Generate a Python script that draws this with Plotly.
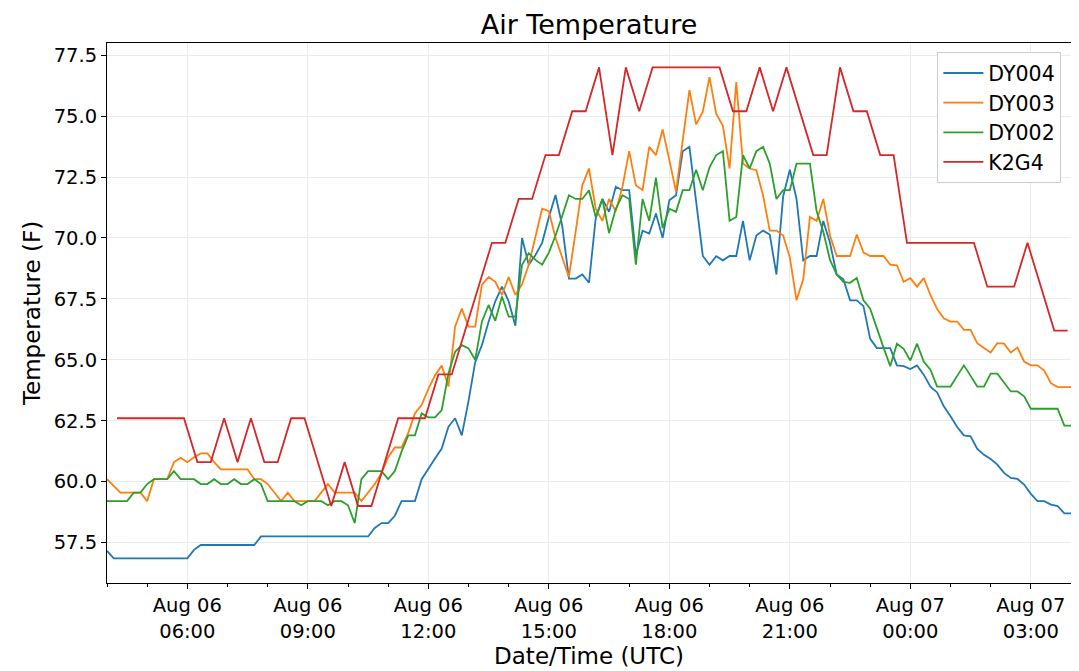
import pandas as pd
import plotly.graph_objects as go

# 10-minute readings, Aug 06 04:00 UTC -> Aug 07 04:00 UTC (one row per hour)
dy004 = [
    57.16, 56.85, 56.85, 56.85, 56.85, 56.85,
    56.85, 56.85, 56.85, 56.85, 56.85, 56.85,
    56.85, 57.2, 57.4, 57.4, 57.4, 57.4,
    57.4, 57.4, 57.4, 57.4, 57.4, 57.75,
    57.75, 57.75, 57.75, 57.75, 57.75, 57.75,
    57.75, 57.75, 57.75, 57.75, 57.75, 57.75,
    57.75, 57.75, 57.75, 57.75, 58.1, 58.3,
    58.3, 58.6, 59.2, 59.2, 59.2, 60.1,
    60.55, 60.95, 61.36, 62.25, 62.6, 61.9,
    63.3, 64.9, 65.6, 66.56, 67.4, 68.0,
    67.4, 66.4, 70.0, 68.9, 69.3, 69.8,
    70.85, 71.76, 70.5, 68.33, 68.33, 68.5,
    68.16, 70.8, 71.6, 71.07, 72.1, 71.96,
    71.96, 69.3, 70.3, 70.18, 71.0, 70.0,
    71.55, 71.75, 73.56, 73.74, 71.5, 69.26,
    68.9, 69.25, 69.08, 69.26, 69.26, 70.7,
    69.08, 70.1, 70.3, 70.14, 68.5, 71.7,
    72.8, 71.6, 69.08, 69.26, 69.26, 70.7,
    69.8, 68.5, 68.3, 67.44, 67.44, 67.2,
    65.86, 65.48, 65.48, 65.48, 64.77, 64.74,
    64.62, 64.77, 64.39, 63.9, 63.66, 63.09,
    62.68, 62.24, 61.9, 61.86, 61.34, 61.1,
    60.93, 60.7, 60.36, 60.15, 60.11, 59.88,
    59.5, 59.2, 59.2, 59.06, 59.0, 58.7,
    58.7,
]

dy003 = [
    60.1, 59.84, 59.55, 59.55, 59.55, 59.55,
    59.2, 60.1, 60.1, 60.1, 60.8, 60.98,
    60.8, 61.0, 61.16, 61.16, 60.8, 60.5,
    60.5, 60.5, 60.5, 60.5, 60.1, 60.1,
    59.9, 59.55, 59.2, 59.55, 59.2, 59.2,
    59.2, 59.2, 59.55, 59.9, 59.55, 59.55,
    59.55, 59.55, 59.2, 59.55, 59.9, 60.35,
    61.0, 61.4, 61.4, 62.0, 62.8, 63.15,
    63.8, 64.37, 64.76, 63.9, 66.36, 67.1,
    66.36, 66.36, 68.07, 68.4, 68.2, 67.66,
    68.4, 67.66, 68.1, 68.9, 70.0, 71.2,
    71.1, 70.0, 69.2, 68.4, 70.25, 72.16,
    72.85, 71.2, 70.7, 71.6, 71.1, 72.1,
    73.56, 72.16, 71.96, 73.74, 73.4, 74.45,
    73.2, 71.9, 74.0, 76.07, 74.66, 75.18,
    76.6, 75.1, 74.6, 72.85, 76.4, 73.05,
    72.85, 72.78, 71.75, 70.3, 70.3, 70.1,
    69.2, 67.44, 68.3, 70.86, 70.7, 71.6,
    70.1, 69.26, 69.26, 69.26, 70.14, 69.4,
    69.26, 69.26, 69.26, 68.9, 68.88, 68.2,
    68.35, 68.0, 68.35, 67.66, 67.08, 66.7,
    66.57, 66.57, 66.23, 66.23, 65.68, 65.48,
    65.3, 65.68, 65.66, 65.3, 65.5, 64.93,
    64.77, 64.77, 64.56, 64.04, 63.88, 63.88,
    63.88,
]

dy002 = [
    59.2, 59.2, 59.2, 59.2, 59.55, 59.55,
    59.9, 60.1, 60.1, 60.1, 60.43, 60.1,
    60.1, 60.1, 59.9, 59.9, 60.1, 59.9,
    59.9, 60.1, 59.9, 59.9, 60.1, 59.9,
    59.2, 59.2, 59.2, 59.2, 59.2, 59.03,
    59.2, 59.2, 59.2, 59.03, 59.2, 59.2,
    59.03, 58.3, 60.1, 60.43, 60.43, 60.43,
    60.1, 60.43, 61.23, 61.9, 61.9, 62.8,
    62.64, 62.64, 62.94, 64.44, 65.33, 65.6,
    65.47, 65.0, 66.56, 67.25, 66.6, 67.6,
    66.77, 66.77, 68.9, 69.37, 69.1, 68.9,
    69.4, 70.1, 70.9, 71.75, 71.6, 71.6,
    71.96, 70.86, 71.6, 70.2, 71.2, 71.75,
    71.6, 68.9, 71.6, 70.7, 72.47, 70.4,
    71.2, 71.07, 71.96, 71.96, 72.8, 71.96,
    72.9, 73.4, 73.56, 70.7, 70.86, 73.4,
    72.85, 73.56, 73.74, 73.05, 71.6, 71.96,
    71.96, 73.05, 73.05, 73.05, 71.1, 70.25,
    69.1, 68.5, 68.2, 68.16, 68.36, 67.44,
    67.1, 66.27, 65.5, 64.74, 65.66, 65.45,
    64.97, 65.66, 64.93, 64.59, 63.9, 63.9,
    63.9, 64.34, 64.77, 64.34, 63.9, 63.9,
    64.43, 64.43, 64.07, 63.7, 63.7, 63.5,
    62.99, 62.99, 62.99, 62.99, 62.99, 62.3,
    62.3,
]

# K2G4 reports every 20 minutes at :15, :35, :55 (04:15 -> 03:55)
k2g4 = [
    62.6, 62.6, 62.6,
    62.6, 62.6, 62.6,
    60.8, 60.8, 62.6,
    60.8, 62.6, 60.8,
    60.8, 62.6, 62.6,
    60.8, 59.0, 60.8,
    59.0, 59.0, 60.8,
    62.6, 62.6, 62.6,
    64.4, 64.4, 66.2,
    68.0, 69.8, 69.8,
    71.6, 71.6, 73.4,
    73.4, 75.2, 75.2,
    77.0, 73.4, 77.0,
    75.2, 77.0, 77.0,
    77.0, 77.0, 77.0,
    77.0, 75.2, 75.2,
    77.0, 75.2, 77.0,
    75.2, 73.4, 73.4,
    77.0, 75.2, 75.2,
    73.4, 73.4, 69.8,
    69.8, 69.8, 69.8,
    69.8, 69.8, 68.0,
    68.0, 68.0, 69.8,
    68.0, 66.2, 66.2,
]

dy_times = pd.date_range("2019-08-06 04:00", periods=len(dy004), freq="10min")
k2g4_times = pd.date_range("2019-08-06 04:15", periods=len(k2g4), freq="20min")

series = [
    ("DY004", dy_times, dy004, "#1f77b4"),
    ("DY003", dy_times, dy003, "#ff7f0e"),
    ("DY002", dy_times, dy002, "#2ca02c"),
    ("K2G4", k2g4_times, k2g4, "#d62728"),
]

fig = go.Figure()
for name, t, v, c in series:
    fig.add_trace(go.Scatter(x=t, y=v, name=name, mode="lines",
                             line=dict(color=c, width=1.8)))

font = "DejaVu Sans, sans-serif"
fig.update_layout(
    width=1079, height=671,
    paper_bgcolor="white", plot_bgcolor="white",
    margin=dict(l=99, r=16, t=35, b=96),
    font=dict(family=font, size=19.5, color="black"),
    title=dict(text="Air Temperature", x=0.5, xref="paper", xanchor="center",
               y=0.975, yanchor="middle", font=dict(size=27)),
    showlegend=True,
    legend=dict(x=0.99, y=0.983, xanchor="right", yanchor="top",
                bgcolor="white", bordercolor="#cccccc", borderwidth=1,
                font=dict(size=20.5), itemwidth=40, tracegroupgap=0),
)
fig.update_xaxes(
    range=["2019-08-06 04:00", "2019-08-07 04:00"],
    tick0="2019-08-06 06:00", dtick=3 * 3600 * 1000,
    tickformat="%b %d<br>%H:%M",
    ticks="outside", ticklen=5, tickcolor="black",
    showline=True, linecolor="black", linewidth=1, mirror=True,
    showgrid=True, gridcolor="#ebebeb", gridwidth=1,
    minor=dict(dtick=3600 * 1000, ticks="outside", ticklen=3,
               tickcolor="black", showgrid=False),
    title=dict(text="Date/Time (UTC)", font=dict(size=23), standoff=0),
    zeroline=False, automargin=False,
)
fig.update_yaxes(
    range=[55.84, 78.0],
    tick0=57.5, dtick=2.5, tickformat=".1f",
    ticks="outside", ticklen=5, tickcolor="black",
    showline=True, linecolor="black", linewidth=1, mirror=True,
    showgrid=True, gridcolor="#ebebeb", gridwidth=1,
    title=dict(text="Temperature (F)", font=dict(size=23), standoff=6),
    zeroline=False, automargin=False,
)

fig.write_html("out.html", config={"displayModeBar": False})
